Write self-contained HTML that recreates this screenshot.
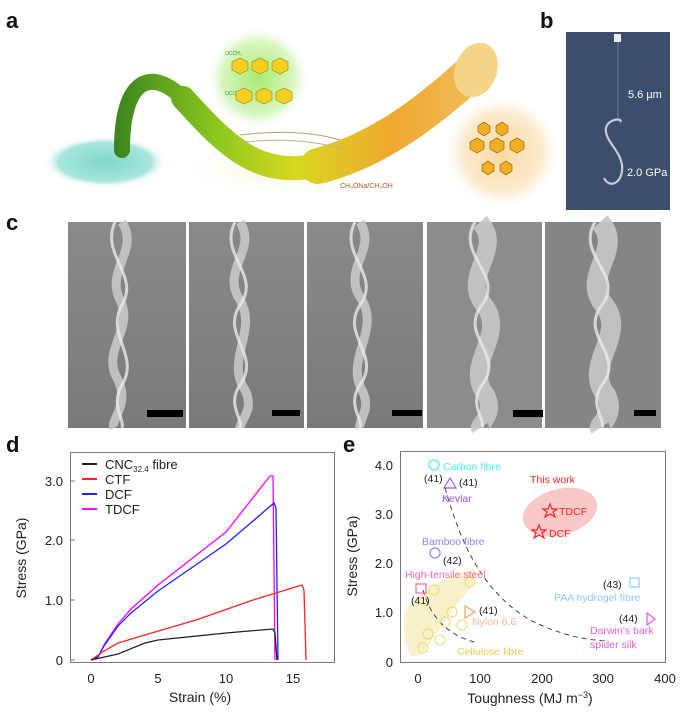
<!DOCTYPE html>
<html><head><meta charset="utf-8"><style>
html,body{margin:0;padding:0;background:#fff;}
svg{display:block;font-family:"Liberation Sans",sans-serif;}
</style></head><body>
<svg width="690" height="720" viewBox="0 0 690 720" xmlns="http://www.w3.org/2000/svg">
<defs>
<linearGradient id="fib" x1="100" y1="0" x2="490" y2="0" gradientUnits="userSpaceOnUse">
<stop offset="0" stop-color="#2f7a1e"/><stop offset="0.3" stop-color="#8cc81e"/><stop offset="0.5" stop-color="#d8d820"/><stop offset="0.75" stop-color="#f0a830"/><stop offset="1" stop-color="#f2c060"/>
</linearGradient>
<radialGradient id="gg"><stop offset="0" stop-color="#a8ec70"/><stop offset="0.7" stop-color="#d8f6c0"/><stop offset="1" stop-color="#fff" stop-opacity="0"/></radialGradient>
<radialGradient id="og"><stop offset="0" stop-color="#fbd9a0"/><stop offset="0.7" stop-color="#fdecd0"/><stop offset="1" stop-color="#fff" stop-opacity="0"/></radialGradient>
<radialGradient id="bg"><stop offset="0" stop-color="#7fd8c8"/><stop offset="0.75" stop-color="#a8e6dc"/><stop offset="1" stop-color="#fff" stop-opacity="0"/></radialGradient>
<radialGradient id="yg"><stop offset="0" stop-color="#fbf3cf"/><stop offset="1" stop-color="#fff" stop-opacity="0"/></radialGradient>
<linearGradient id="sem" x1="0" y1="0" x2="0" y2="1"><stop offset="0" stop-color="#8a8a8a"/><stop offset="1" stop-color="#7a7a7a"/></linearGradient>
</defs>
<g font-weight="bold" font-size="22" fill="#111">
<text x="6" y="28">a</text><text x="540" y="28">b</text><text x="6" y="230">c</text><text x="6" y="452">d</text><text x="343" y="452">e</text>
</g>
<!-- panel a -->
<ellipse cx="280" cy="170" rx="110" ry="30" fill="url(#yg)"/>
<ellipse cx="105" cy="162" rx="62" ry="26" fill="url(#bg)"/>
<circle cx="258" cy="78" r="52" fill="url(#gg)"/>
<circle cx="502" cy="152" r="58" fill="url(#og)"/>
<path d="M122,150 C122,80 150,65 185,100" fill="none" stroke="url(#fib)" stroke-width="16" stroke-linecap="round"/>
<path d="M183,98 C230,150 260,178 320,165" fill="none" stroke="url(#fib)" stroke-width="24" stroke-linecap="round"/>
<path d="M318,166 C380,150 430,110 472,72" fill="none" stroke="url(#fib)" stroke-width="36" stroke-linecap="round"/>
<ellipse cx="476" cy="70" rx="21" ry="28" fill="#f5d58a" transform="rotate(20 476 70)"/>
<path d="M240,135 Q300,128 340,140" fill="none" stroke="#b8a070"/>
<path d="M235,143 Q300,135 345,150" fill="none" stroke="#c8b080"/>
<g fill="#3a9a3a" font-size="5">
<text x="225" y="55">OCCH₃</text><text x="225" y="95">OCCH₃</text></g>
<g fill="#f5d020" stroke="#8a8a20" stroke-width="0.6">
<polygon points="232,62 240,58 248,62 248,70 240,74 232,70"/><polygon points="252,62 260,58 268,62 268,70 260,74 252,70"/><polygon points="272,62 280,58 288,62 288,70 280,74 272,70"/>
<polygon points="236,92 244,88 252,92 252,100 244,104 236,100"/><polygon points="256,92 264,88 272,92 272,100 264,104 256,100"/><polygon points="276,92 284,88 292,92 292,100 284,104 276,100"/>
</g>
<g fill="#f0b020" stroke="#8a5010" stroke-width="0.6">
<polygon points="470,142 477,138 484,142 484,149 477,153 470,149"/><polygon points="490,142 497,138 504,142 504,149 497,153 490,149"/><polygon points="510,142 517,138 524,142 524,149 517,153 510,149"/>
<polygon points="478,126 484,122 490,126 490,132 484,136 478,132"/><polygon points="496,126 502,122 508,126 508,132 502,136 496,132"/>
<polygon points="482,165 488,161 494,165 494,171 488,175 482,171"/><polygon points="500,165 506,161 512,165 512,171 506,175 500,171"/>
</g>
<text x="340" y="188" font-size="7" fill="#a06030">CH₃ONa/CH₃OH</text>
<!-- panel b -->
<rect x="566" y="32" width="104" height="178" fill="#3b4f6c"/>
<rect x="614" y="34" width="7" height="8" fill="#eee"/>
<line x1="618" y1="42" x2="618" y2="120" stroke="#aab" stroke-width="0.5"/>
<path d="M620,122 C624,118 608,118 606,128 C604,140 620,150 622,165 C624,182 610,190 604,178" fill="none" stroke="#c8ccd4" stroke-width="2.2"/>
<text x="628" y="98" font-size="11" fill="#fff">5.6 µm</text>
<text x="627" y="176" font-size="11" fill="#fff">2.0 GPa</text>
<!-- panel c -->
<g>
<rect x="68" y="222" width="118" height="206" fill="url(#sem)"/>
<rect x="189" y="222" width="115" height="206" fill="url(#sem)"/>
<rect x="307" y="222" width="116" height="206" fill="url(#sem)"/>
<rect x="427" y="222" width="115" height="206" fill="#8c8c8c"/>
<rect x="545" y="222" width="116" height="206" fill="#858585"/>
</g>
<g fill="none" stroke="#c8c8c8" stroke-width="9" opacity="0.9">
<path d="M122,222 C140,250 105,270 120,300 C135,330 100,350 118,380 C130,405 110,420 114,428"/>
<path d="M240,222 C258,250 220,270 240,300 C258,330 225,360 245,390 C255,410 240,420 240,428"/>
<path d="M360,222 C378,250 340,270 362,300 C380,330 345,360 362,390 C372,410 358,420 360,428"/>
<path d="M480,222 C505,250 460,275 484,305 C508,335 462,365 486,395 C496,415 478,425 480,428" stroke-width="18"/>
<path d="M600,222 C625,250 580,275 604,305 C628,335 582,365 606,395 C616,415 598,425 600,428" stroke-width="20"/>
</g>
<g fill="none" stroke="#eaeaea" stroke-width="3" opacity="0.8">
<path d="M115,222 C100,255 140,275 122,305 C105,335 140,355 122,385 C110,405 125,420 122,428"/>
<path d="M235,222 C218,255 262,275 240,305 C220,335 262,355 240,385 C226,405 244,420 240,428"/>
<path d="M355,222 C338,255 382,275 360,305 C340,335 382,355 360,385 C346,405 364,420 360,428"/>
<path d="M475,222 C455,255 505,275 482,305 C458,335 506,355 482,385 C468,405 486,420 482,428"/>
<path d="M595,222 C575,255 625,275 602,305 C578,335 626,355 602,385 C588,405 606,420 602,428"/>
</g>
<g fill="#000">
<rect x="147" y="410" width="36" height="7"/><rect x="272" y="410" width="28" height="6"/><rect x="392" y="410" width="30" height="6"/><rect x="513" y="410" width="30" height="7"/><rect x="634" y="410" width="22" height="6"/>
</g>
<!-- panel d -->
<rect x="70.5" y="452.5" width="264" height="210" fill="none" stroke="#777" stroke-width="1"/>
<g font-size="13" fill="#222" text-anchor="end">
<text x="63" y="665">0</text><text x="63" y="605">1.0</text><text x="63" y="545">2.0</text><text x="63" y="486">3.0</text></g>
<g stroke="#777"><line x1="70" y1="660" x2="75" y2="660"/><line x1="70" y1="600" x2="75" y2="600"/><line x1="70" y1="540" x2="75" y2="540"/><line x1="70" y1="481" x2="75" y2="481"/></g>
<g font-size="13" fill="#222" text-anchor="middle">
<text x="91" y="683">0</text><text x="158" y="683">5</text><text x="226" y="683">10</text><text x="293" y="683">15</text>
<text x="200" y="702" font-size="14">Strain (%)</text></g>
<text transform="translate(26,558) rotate(-90)" font-size="14" text-anchor="middle" fill="#222">Stress (GPa)</text>
<g fill="none" stroke-width="1.3">
<polyline stroke="#f0f" points="91,660 98,657 104,645 118,624 131,609 158,585 226,532 270,476 273,476 275,660"/>
<polyline stroke="#22f" points="91,660 98,657 104,646 118,626 131,613 158,591 226,544 274,503 276,508 278,660"/>
<polyline stroke="#f22" points="91,660 104,651 118,643 145,635 199,619 253,600 302,585 304,590 306,660"/>
<polyline stroke="#222" points="91,660 118,654 145,643 158,640 226,633 273,629 275,633 277,660"/>
</g>
<g stroke-width="2"><line x1="82" y1="464" x2="97" y2="464" stroke="#222"/><line x1="82" y1="479" x2="97" y2="479" stroke="#f22"/><line x1="82" y1="494" x2="97" y2="494" stroke="#22f"/><line x1="82" y1="509" x2="97" y2="509" stroke="#f0f"/></g>
<g font-size="13" fill="#222"><text x="105" y="469">CNC<tspan font-size="8" dy="3">32.4</tspan><tspan dy="-3"> fibre</tspan></text><text x="105" y="484">CTF</text><text x="105" y="499">DCF</text><text x="105" y="514">TDCF</text></g>
<!-- panel e -->
<rect x="400.5" y="451.5" width="265" height="211" fill="none" stroke="#777" stroke-width="1"/>
<g font-size="13" fill="#222" text-anchor="end">
<text x="393" y="667">0</text><text x="393" y="617">1.0</text><text x="393" y="568">2.0</text><text x="393" y="519">3.0</text><text x="393" y="470">4.0</text></g>
<g font-size="13" fill="#222" text-anchor="middle">
<text x="418" y="683">0</text><text x="480" y="683">100</text><text x="542" y="683">200</text><text x="603" y="683">300</text><text x="665" y="683">400</text>
<text x="530" y="703" font-size="14">Toughness (MJ m<tspan font-size="9" dy="-5">−3</tspan><tspan dy="5">)</tspan></text></g>
<text transform="translate(357,556) rotate(-90)" font-size="14" text-anchor="middle" fill="#222">Stress (GPa)</text>
<path d="M408,650 C400,620 405,605 420,595 C440,580 460,570 475,570 C480,575 470,590 462,598 C450,612 440,628 425,650 C418,660 410,658 408,650 Z" fill="#f7f0c4" opacity="0.9"/>
<ellipse cx="560" cy="512" rx="38" ry="23" fill="#f9c8c8" transform="rotate(-15 560 512)"/>
<g fill="none" stroke="#444" stroke-width="1" stroke-dasharray="5,4">
<path d="M445,488 C460,540 480,590 530,620 C560,635 585,640 608,641"/>
<path d="M423,590 C430,615 445,635 478,643"/>
</g>
<g fill="none" stroke-width="1.2">
<circle cx="434" cy="465" r="5" stroke="#4ee"/>
<polygon points="450,478 456,488 444,488" stroke="#a050f0"/>
<circle cx="435" cy="553" r="5" stroke="#88f"/>
<rect x="416" y="584" width="10" height="9" stroke="#f6a"/>
<polygon points="465,606 475,612 465,618" stroke="#f0a070"/>
<rect x="630" y="578" width="9" height="9" stroke="#8cf"/>
<polygon points="647,613 655,619 647,625" stroke="#e060e0"/>
<polygon points="550,504 552,509 557,509 553,512 555,517 550,514 545,517 547,512 543,509 548,509" stroke="#f22"/>
<polygon points="539,525 541,530 546,530 542,533 544,538 539,535 534,538 536,533 532,530 537,530" stroke="#f22"/>
<g stroke="#eee080"><circle cx="434" cy="590" r="5"/><circle cx="470" cy="582" r="5"/><circle cx="452" cy="612" r="5"/><circle cx="428" cy="634" r="5"/><circle cx="440" cy="640" r="5"/><circle cx="423" cy="648" r="5"/><circle cx="445" cy="622" r="5"/><circle cx="462" cy="625" r="5"/></g>
</g>
<g font-size="10.5">
<text x="443" y="470" fill="#4ee">Carbon fibre</text>
<text x="424" y="482" fill="#222">(41)</text><text x="459" y="486" fill="#222">(41)</text>
<text x="442" y="502" fill="#a050f0">Kevlar</text>
<text x="530" y="483" fill="#f22">This work</text>
<text x="559" y="515" fill="#f22">TDCF</text><text x="549" y="537" fill="#f22">DCF</text>
<text x="422" y="545" fill="#88f">Bamboo fibre</text>
<text x="443" y="564" fill="#222">(42)</text>
<text x="405" y="578" fill="#f6a">High-tensile steel</text>
<text x="411" y="604" fill="#222">(41)</text>
<text x="479" y="614" fill="#222">(41)</text>
<text x="472" y="625" fill="#f0b890">Nylon 6,6</text>
<text x="457" y="655" fill="#f0c850">Cellulose fibre</text>
<text x="603" y="588" fill="#222">(43)</text>
<text x="554" y="601" fill="#8cf">PAA hydrogel fibre</text>
<text x="619" y="622" fill="#222">(44)</text>
<text x="590" y="634" fill="#e060e0">Darwin’s bark</text>
<text x="590" y="648" fill="#e060e0">spider silk</text>
</g>
</svg>
</body></html>
